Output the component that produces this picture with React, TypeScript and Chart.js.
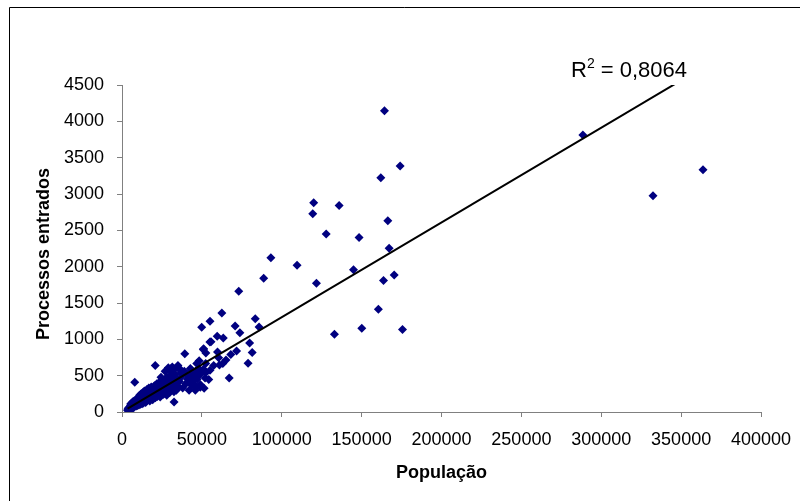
import React, { useEffect, useRef } from "react";
import { Chart, registerables } from "chart.js";

Chart.register(...registerables);

// População (x) and Processos entrados (y)
const populacao: number[] = [
  // larger municipalities
  174100, 162000, 164300, 120000, 119400, 135900, 166400, 127800, 148400, 167200,
  109600, 144900, 121700, 163700, 170400, 160500, 133000, 150100, 175600, 288500,
  332400, 363700, 93200, 88700, 73100, 83400, 85800, 70800, 73800, 62500,
  55100, 49900, 59600, 63400, 55700, 79900, 81500, 78900, 71700, 67100,
  51100, 52500, 59800, 60500, 65100, 68100, 63100, 48300, 39300, 46800,
  52400, 57400, 61000, 51800, 54300, 51400, 20800, 8000, 24400, 30900,
  35900, 32100, 37600, 45100, 43800, 42600, 32600, 45900, 34600, 42800,
  51000, 55100, 36800, 44300, 48900, 52600, 52000, 28200, 43600, 43600,
  50900, 55000,
  // dense cluster
  3500, 3700, 3900, 4100, 4300, 4500, 4700, 4900, 5100, 5300,
  5500, 5700, 5900, 6100, 6300, 5200, 5400, 5600, 5800, 6000,
  6200, 6400, 6600, 6800, 7000, 7200, 7400, 7600, 7800, 8100,
  8300, 8500, 8700, 8900, 9100, 9300, 9500, 9700, 9900, 10200,
  10400, 10600, 10800, 11000, 11200, 11400, 11600, 11800, 12000, 12200,
  12400, 12600, 12800, 13000, 13200, 13400, 13600, 13800, 14000, 14200,
  14400, 14600, 14800, 15000, 15300, 15600, 15900, 16200, 16500, 16800,
  17100, 17400, 17700, 18000, 18300, 18600, 18900, 19200, 19500, 19800,
  20300, 20600, 20900, 21200, 21500, 21800, 22100, 22400, 22700, 23000,
  23300, 23600, 23900, 24200, 24700, 25200, 25600, 26000, 26400, 26800,
  27200, 27600, 28000, 28500, 29000, 29500, 29900, 30500, 31000, 31500,
  32000, 32500, 33000, 33500, 34000, 34500, 35000, 36000, 37000, 38000,
  39000, 40000, 41000, 42000, 43000, 44000, 45000, 46000, 47000, 48000,
  49000, 27000, 29000, 30000, 31500, 33500, 35000, 36500, 40500, 42500,
  44500, 46500, 46000, 49000,
];

const processos: number[] = [
  3385, 3224, 4147, 2879, 2728, 2843, 2631, 2448, 2402, 2255,
  2021, 1956, 1773, 1810, 1887, 1415, 1070, 1153, 1135, 3812,
  2976, 3334, 2122, 1842, 1663, 1284, 1169, 1185, 1089, 1364,
  1249, 1167, 1041, 1018, 967, 951, 820, 671, 840, 467,
  870, 813, 824, 746, 716, 791, 667, 705, 802, 667,
  667, 639, 648, 561, 446, 326, 639, 409, 478, 602,
  598, 598, 551, 492, 368, 437, 138, 299, 322, 598,
  588, 574, 537, 529, 519, 543, 468, 482, 574, 437,
  860, 964,
  25, 40, 18, 55, 35, 62, 28, 48, 80, 41,
  66, 30, 95, 52, 74, 60, 110, 45, 85, 70,
  125, 58, 95, 140, 78, 105, 62, 150, 88, 118,
  160, 98, 130, 82, 172, 110, 140, 90, 185, 120,
  205, 95, 150, 230, 130, 175, 105, 210, 250, 140,
  185, 115, 235, 160, 270, 125, 200, 175, 290, 145,
  220, 185, 130, 260, 205, 310, 160, 240, 185, 330,
  215, 150, 280, 235, 345, 190, 260, 170, 300, 225,
  360, 250, 195, 310, 270, 390, 215, 335, 280, 240,
  410, 300, 205, 355, 265, 430, 320, 245, 380, 290,
  450, 340, 230, 400, 310, 470, 270, 380, 500, 330,
  440, 280, 520, 395, 300, 460, 350, 420, 480, 330,
  560, 390, 450, 300, 510, 420, 380, 560, 450, 600,
  380, 560, 610, 560, 620, 600, 640, 575, 520, 470,
  540, 490, 350, 340,
];

const xTicks = [0, 50000, 100000, 150000, 200000, 250000, 300000, 350000, 400000];
const yTicks = [0, 500, 1000, 1500, 2000, 2500, 3000, 3500, 4000, 4500];

const trendSlope = 0.01304;
const trendIntercept = 0;
const trendStartX = 3500;
const trendEndX = 363700;
const r2Value = "0,8064";

const xTitle = "População";
const yTitle = "Processos entrados";

const FONT = '"Liberation Sans", Arial, sans-serif';

const decorPlugin = {
  id: "decor",
  beforeDraw(chart: any) {
    const ctx = chart.ctx;
    ctx.save();
    ctx.fillStyle = "#ffffff";
    ctx.fillRect(0, 0, chart.width, chart.height);
    ctx.strokeStyle = "#000000";
    ctx.lineWidth = 1;
    ctx.beginPath();
    ctx.moveTo(9.5, chart.height);
    ctx.lineTo(9.5, 7.5);
    ctx.lineTo(chart.width, 7.5);
    ctx.stroke();
    ctx.restore();
  },
  afterDraw(chart: any) {
    const ctx = chart.ctx;
    const area = chart.chartArea;
    ctx.save();
    ctx.fillStyle = "#000000";
    // x title
    ctx.font = `bold 18px ${FONT}`;
    ctx.textAlign = "center";
    ctx.textBaseline = "alphabetic";
    ctx.fillText(xTitle, (area.left + area.right) / 2, 478);
    // y title
    ctx.save();
    ctx.translate(49, 254);
    ctx.rotate(-Math.PI / 2);
    ctx.fillText(yTitle, 0, 0);
    ctx.restore();
    // R² label
    ctx.textAlign = "left";
    ctx.font = `22px ${FONT}`;
    let x = 571;
    const base = 77;
    ctx.fillText("R", x, base);
    x += ctx.measureText("R").width;
    ctx.font = `14px ${FONT}`;
    ctx.fillText("2", x, base - 9);
    x += ctx.measureText("2").width;
    ctx.font = `22px ${FONT}`;
    ctx.fillText(" = " + r2Value, x, base);
    ctx.restore();
  },
};

export default function App() {
  const ref = useRef<HTMLCanvasElement | null>(null);

  useEffect(() => {
    if (!ref.current) return;
    const points = populacao.map((p, i) => ({ x: p, y: processos[i] }));
    const trend = [
      { x: trendStartX, y: trendIntercept + trendSlope * trendStartX },
      { x: trendEndX, y: trendIntercept + trendSlope * trendEndX },
    ];
    const chart = new Chart(ref.current, {
      type: "scatter",
      data: {
        datasets: [
          {
            type: "line",
            data: trend,
            borderColor: "#000000",
            borderWidth: 2,
            pointRadius: 0,
            fill: false,
            order: 0,
          } as any,
          {
            data: points,
            pointStyle: "rectRot",
            pointRadius: 4.5,
            pointBackgroundColor: "#000080",
            pointBorderColor: "#000080",
            pointBorderWidth: 0,
            order: 1,
          },
        ],
      },
      options: {
        animation: false,
        responsive: false,
        events: [],
        layout: { padding: { top: 85, right: 39, bottom: 0, left: 0 } },
        plugins: { legend: { display: false }, tooltip: { enabled: false }, title: { display: false } },
        scales: {
          x: {
            type: "linear",
            min: 0,
            max: 400000,
            afterBuildTicks: (s: any) => {
              s.ticks = xTicks.map((v) => ({ value: v }));
            },
            afterFit: (s: any) => {
              s.height = 89;
              s.paddingLeft = 0;
              s.paddingRight = 0;
            },
            ticks: {
              font: { family: FONT, size: 18 },
              color: "#000000",
              padding: 12,
              maxRotation: 0,
              callback: (v: any) => String(v),
            },
            grid: { drawOnChartArea: false, drawTicks: true, tickLength: 5, color: "#808080" },
            border: { display: true, color: "#808080", width: 1 },
          },
          y: {
            type: "linear",
            min: 0,
            max: 4500,
            afterBuildTicks: (s: any) => {
              s.ticks = yTicks.map((v) => ({ value: v }));
            },
            afterFit: (s: any) => {
              s.width = 122;
              s.paddingTop = 0;
              s.paddingBottom = 0;
            },
            ticks: {
              font: { family: FONT, size: 18 },
              color: "#000000",
              padding: 13,
              callback: (v: any) => String(v),
            },
            grid: { drawOnChartArea: false, drawTicks: true, tickLength: 5, color: "#808080" },
            border: { display: true, color: "#808080", width: 1 },
          },
        },
      },
      plugins: [decorPlugin],
    });
    return () => chart.destroy();
  }, []);

  return (
    <div style={{ position: "fixed", left: 0, top: 0, width: 800, height: 501 }}>
      <canvas ref={ref} width={800} height={501} style={{ width: 800, height: 501, display: "block" }} />
    </div>
  );
}
